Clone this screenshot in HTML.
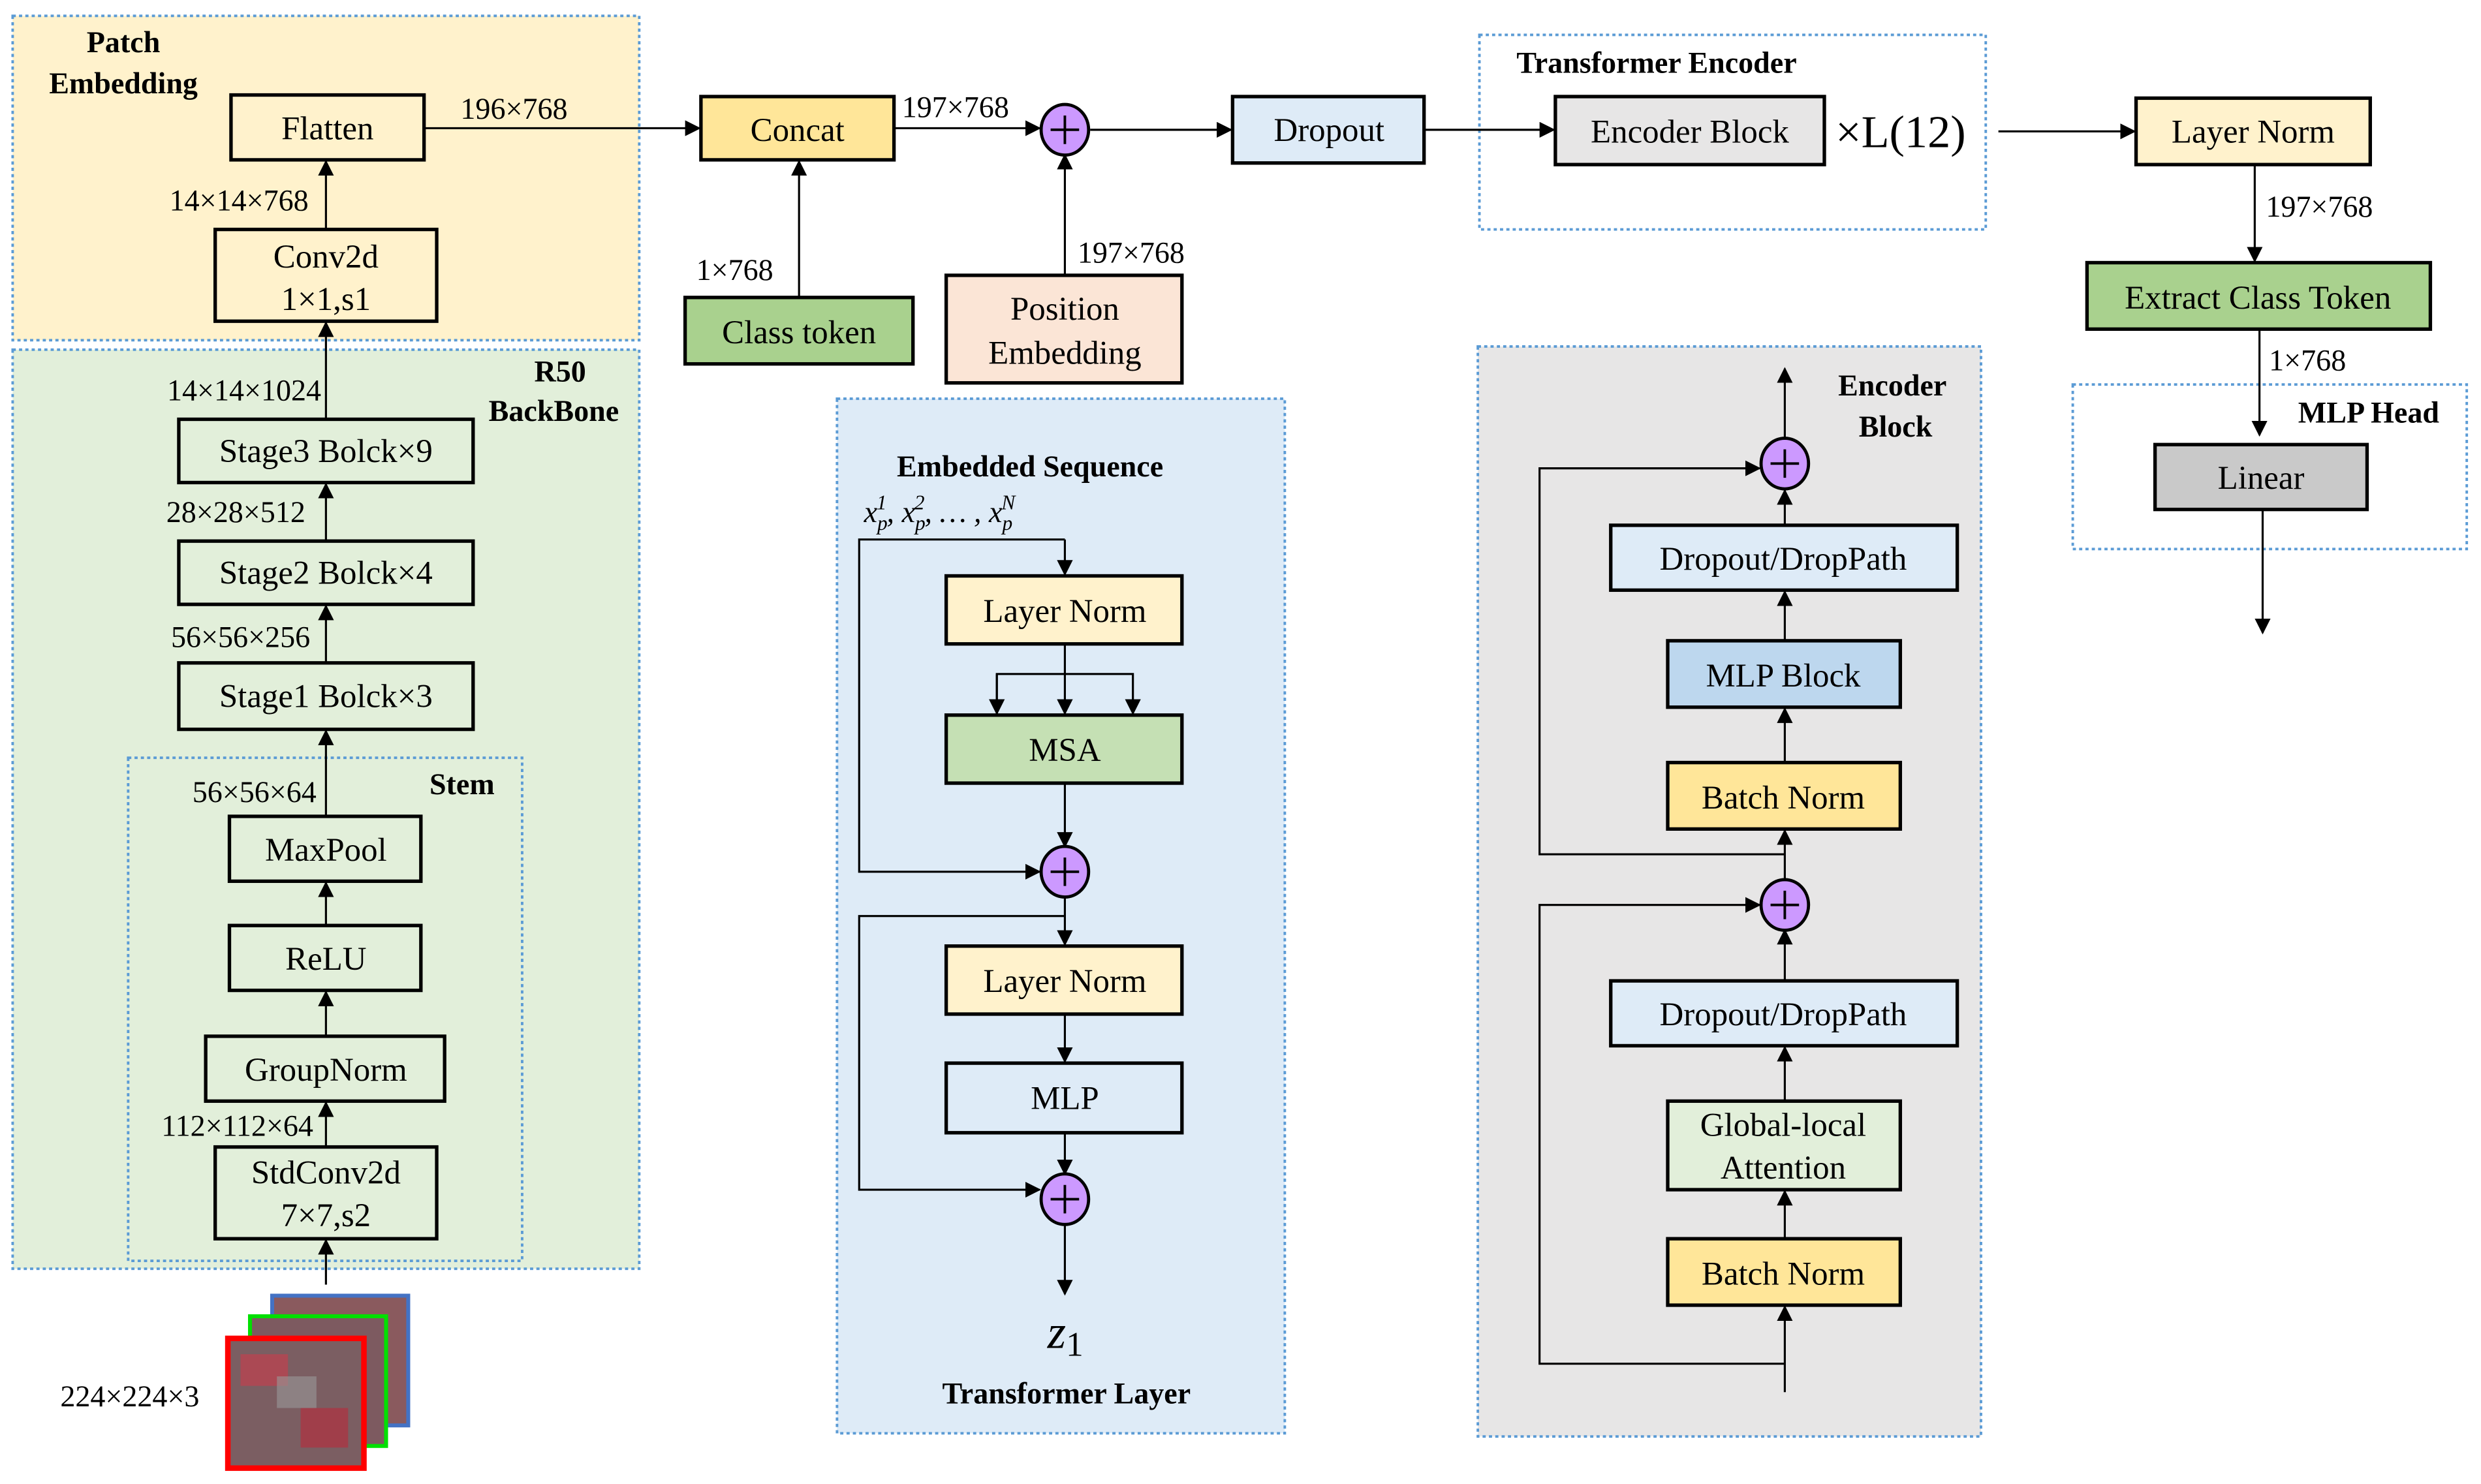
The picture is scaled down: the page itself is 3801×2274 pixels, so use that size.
<!DOCTYPE html>
<html><head><meta charset="utf-8"><style>
html,body{margin:0;padding:0;background:#fff}
svg{display:block}
text{font-family:"Liberation Serif",serif;fill:#000}
.t{font-size:21px;text-anchor:middle}
.l{font-size:19px}
.b{font-weight:bold;font-size:19px;text-anchor:middle}
.bx{stroke:#000;stroke-width:2.2}
.rg{stroke:#5b9bd5;stroke-width:1.6;stroke-dasharray:2 2}
.ln{stroke:#000;stroke-width:1.3;fill:none}
</style></head><body>
<svg width="3801" height="2274" viewBox="0 0 1568 938" xmlns="http://www.w3.org/2000/svg">
<defs><marker id="a" markerWidth="10" markerHeight="10" refX="9" refY="5" orient="auto" markerUnits="userSpaceOnUse"><path d="M0,0 L10,5 L0,10 z" fill="#000"/></marker></defs>
<!-- regions -->
<rect x="8" y="10" width="396" height="205" fill="#fff2cc" class="rg"/>
<rect x="8" y="221" width="396" height="581" fill="#e2efda" class="rg"/>
<rect x="81" y="479" width="249" height="318" fill="#e2efda" class="rg"/>
<rect x="529" y="252" width="283" height="654" fill="#deebf7" class="rg"/>
<rect x="934" y="219" width="318" height="689" fill="#e7e6e6" class="rg"/>
<rect x="935" y="22" width="320" height="123" fill="#fff" class="rg"/>
<rect x="1310" y="243" width="249" height="104" fill="#fff" class="rg"/>
<!-- region titles -->
<text class="b" x="78" y="33">Patch</text><text class="b" x="78" y="59">Embedding</text>
<text class="b" x="354" y="241">R50</text><text class="b" x="350" y="266">BackBone</text>
<text class="b" x="292" y="502">Stem</text>
<text class="b" x="651" y="301">Embedded Sequence</text>
<text class="b" x="674" y="887">Transformer Layer</text>
<text class="b" x="1047" y="46">Transformer Encoder</text>
<text class="b" x="1196" y="250">Encoder</text><text class="b" x="1198" y="276">Block</text>
<text class="b" x="1497" y="267">MLP Head</text>
<!-- left column boxes -->
<rect x="146" y="60" width="122" height="41" fill="none" class="bx"/><text class="t" x="207" y="88">Flatten</text>
<rect x="136" y="145" width="140" height="58" fill="none" class="bx"/><text class="t" x="206" y="169">Conv2d</text><text class="t" x="206" y="196">1×1,s1</text>
<rect x="113" y="265" width="186" height="40" fill="none" class="bx"/><text class="t" x="206" y="292">Stage3 Bolck×9</text>
<rect x="113" y="342" width="186" height="40" fill="none" class="bx"/><text class="t" x="206" y="369">Stage2 Bolck×4</text>
<rect x="113" y="419" width="186" height="42" fill="none" class="bx"/><text class="t" x="206" y="447">Stage1 Bolck×3</text>
<rect x="145" y="516" width="121" height="41" fill="none" class="bx"/><text class="t" x="206" y="544">MaxPool</text>
<rect x="145" y="585" width="121" height="41" fill="none" class="bx"/><text class="t" x="206" y="613">ReLU</text>
<rect x="130" y="655" width="151" height="41" fill="none" class="bx"/><text class="t" x="206" y="683">GroupNorm</text>
<rect x="136" y="725" width="140" height="58" fill="none" class="bx"/><text class="t" x="206" y="748">StdConv2d</text><text class="t" x="206" y="775">7×7,s2</text>
<g class="ln">
<line x1="206" y1="145" x2="206" y2="102" marker-end="url(#a)"/>
<line x1="206" y1="265" x2="206" y2="204" marker-end="url(#a)"/>
<line x1="206" y1="342" x2="206" y2="306" marker-end="url(#a)"/>
<line x1="206" y1="419" x2="206" y2="383" marker-end="url(#a)"/>
<line x1="206" y1="516" x2="206" y2="462" marker-end="url(#a)"/>
<line x1="206" y1="585" x2="206" y2="558" marker-end="url(#a)"/>
<line x1="206" y1="655" x2="206" y2="627" marker-end="url(#a)"/>
<line x1="206" y1="725" x2="206" y2="697" marker-end="url(#a)"/>
<line x1="206" y1="812" x2="206" y2="784" marker-end="url(#a)"/>
</g>
<g class="l" style="text-anchor:end">
<text x="195" y="133">14×14×768</text>
<text x="203" y="253">14×14×1024</text>
<text x="193" y="330">28×28×512</text>
<text x="196" y="409">56×56×256</text>
<text x="200" y="507">56×56×64</text>
<text x="198" y="718">112×112×64</text>
<text x="126" y="889">224×224×3</text>
</g>
<!-- images -->
<rect x="172" y="819" width="86" height="82" fill="#8a5a5e" stroke="#4472c4" stroke-width="2.5"/>
<rect x="158" y="832" width="86" height="82" fill="#7d5a60" stroke="#00e000" stroke-width="2.5"/>
<rect x="144" y="846" width="86" height="82" fill="#7b5e62" stroke="#ff0000" stroke-width="3.5"/>
<rect x="152" y="856" width="30" height="20" fill="#c0404e" opacity=".7"/><rect x="190" y="890" width="30" height="25" fill="#b03040" opacity=".7"/><rect x="175" y="870" width="25" height="20" fill="#9a9a9a" opacity=".6"/>
<!-- top row -->
<rect x="443" y="61" width="122" height="40" fill="#ffe699" class="bx"/><text class="t" x="504" y="89">Concat</text>
<rect x="433" y="188" width="144" height="42" fill="#a9d18e" class="bx"/><text class="t" x="505" y="217">Class token</text>
<rect x="598" y="174" width="149" height="68" fill="#fbe5d6" class="bx"/><text class="t" x="673" y="202">Position</text><text class="t" x="673" y="230">Embedding</text>
<rect x="779" y="61" width="121" height="42" fill="#deebf7" class="bx"/><text class="t" x="840" y="89">Dropout</text>
<rect x="983" y="61" width="170" height="43" fill="#e7e6e6" class="bx"/><text class="t" x="1068" y="90">Encoder Block</text>
<text x="1160" y="93" style="font-size:29px">×L(12)</text>
<rect x="1350" y="62" width="148" height="42" fill="#fff2cc" class="bx"/><text class="t" x="1424" y="90">Layer Norm</text>
<rect x="1319" y="166" width="217" height="42" fill="#a9d18e" class="bx"/><text class="t" x="1427" y="195">Extract Class Token</text>
<rect x="1362" y="281" width="134" height="41" fill="#c9c9c9" class="bx"/><text class="t" x="1429" y="309">Linear</text>
<g class="ln">
<line x1="268" y1="81" x2="442" y2="81" marker-end="url(#a)"/>
<line x1="505" y1="188" x2="505" y2="102" marker-end="url(#a)"/>
<line x1="565" y1="81" x2="657" y2="81" marker-end="url(#a)"/>
<line x1="673" y1="174" x2="673" y2="98" marker-end="url(#a)"/>
<line x1="689" y1="82" x2="778" y2="82" marker-end="url(#a)"/>
<line x1="900" y1="82" x2="982" y2="82" marker-end="url(#a)"/>
<line x1="1263" y1="83" x2="1349" y2="83" marker-end="url(#a)"/>
<line x1="1425" y1="104" x2="1425" y2="165" marker-end="url(#a)"/>
<line x1="1428" y1="208" x2="1428" y2="275" marker-end="url(#a)"/>
<line x1="1430" y1="322" x2="1430" y2="400" marker-end="url(#a)"/>
</g>
<g class="l">
<text x="291" y="75">196×768</text>
<text x="440" y="177">1×768</text>
<text x="570" y="74">197×768</text>
<text x="681" y="166">197×768</text>
<text x="1432" y="137">197×768</text>
<text x="1434" y="234">1×768</text>
</g>
<!-- transformer layer -->
<text x="546" y="330" style="font-size:19px;font-style:italic">x<tspan dy="5" font-size="13">p</tspan><tspan dy="-13" dx="-7" font-size="13">1</tspan><tspan dy="8">, x</tspan><tspan dy="5" font-size="13">p</tspan><tspan dy="-13" dx="-7" font-size="13">2</tspan><tspan dy="8">, … , x</tspan><tspan dy="5" font-size="13">p</tspan><tspan dy="-13" dx="-7" font-size="13">N</tspan></text>
<rect x="598" y="364" width="149" height="43" fill="#fff2cc" class="bx"/><text class="t" x="673" y="393">Layer Norm</text>
<rect x="598" y="452" width="149" height="43" fill="#c5e0b4" class="bx"/><text class="t" x="673" y="481">MSA</text>
<rect x="598" y="598" width="149" height="43" fill="#fff2cc" class="bx"/><text class="t" x="673" y="627">Layer Norm</text>
<rect x="598" y="672" width="149" height="44" fill="none" class="bx"/><text class="t" x="673" y="701">MLP</text>
<g class="ln">
<polyline points="673,341 673,363" marker-end="url(#a)"/>
<polyline points="673,341 543,341 543,551 657,551" marker-end="url(#a)"/>
<line x1="673" y1="407" x2="673" y2="451" marker-end="url(#a)"/>
<polyline points="630,451 630,426 716,426 716,451" marker-end="url(#a)"/>
<line x1="630" y1="426" x2="630" y2="451" marker-end="url(#a)"/>
<line x1="673" y1="495" x2="673" y2="535" marker-end="url(#a)"/>
<line x1="673" y1="567" x2="673" y2="597" marker-end="url(#a)"/>
<polyline points="673,579 543,579 543,752 657,752" marker-end="url(#a)"/>
<line x1="673" y1="641" x2="673" y2="671" marker-end="url(#a)"/>
<line x1="673" y1="716" x2="673" y2="742" marker-end="url(#a)"/>
<line x1="673" y1="774" x2="673" y2="818" marker-end="url(#a)"/>
</g>
<text x="662" y="852" style="font-size:30px;font-style:italic">z<tspan font-size="22" font-style="normal" dy="5">1</tspan></text>
<!-- encoder block -->
<rect x="1018" y="332" width="219" height="41" fill="#deebf7" class="bx"/><text class="t" x="1127" y="360">Dropout/DropPath</text>
<rect x="1054" y="405" width="147" height="42" fill="#bdd7ee" class="bx"/><text class="t" x="1127" y="434">MLP Block</text>
<rect x="1054" y="482" width="147" height="42" fill="#ffe699" class="bx"/><text class="t" x="1127" y="511">Batch Norm</text>
<rect x="1018" y="620" width="219" height="41" fill="#deebf7" class="bx"/><text class="t" x="1127" y="648">Dropout/DropPath</text>
<rect x="1054" y="696" width="147" height="56" fill="#e2efda" class="bx"/><text class="t" x="1127" y="718">Global-local</text><text class="t" x="1127" y="745">Attention</text>
<rect x="1054" y="783" width="147" height="42" fill="#ffe699" class="bx"/><text class="t" x="1127" y="812">Batch Norm</text>
<g class="ln">
<line x1="1128" y1="277" x2="1128" y2="233" marker-end="url(#a)"/>
<line x1="1128" y1="332" x2="1128" y2="310" marker-end="url(#a)"/>
<line x1="1128" y1="405" x2="1128" y2="374" marker-end="url(#a)"/>
<line x1="1128" y1="482" x2="1128" y2="448" marker-end="url(#a)"/>
<line x1="1128" y1="556" x2="1128" y2="525" marker-end="url(#a)"/>
<polyline points="1128,540 973,540 973,296 1112,296" marker-end="url(#a)"/>
<line x1="1128" y1="620" x2="1128" y2="588" marker-end="url(#a)"/>
<line x1="1128" y1="696" x2="1128" y2="662" marker-end="url(#a)"/>
<line x1="1128" y1="783" x2="1128" y2="753" marker-end="url(#a)"/>
<line x1="1128" y1="880" x2="1128" y2="826" marker-end="url(#a)"/>
<polyline points="1128,862 973,862 973,572 1112,572" marker-end="url(#a)"/>
</g>
<!-- plus circles -->
<g stroke="#000" stroke-width="2" fill="#cc99ff">
<ellipse cx="673" cy="82" rx="15" ry="16"/><ellipse cx="673" cy="551" rx="15" ry="16"/><ellipse cx="673" cy="758" rx="15" ry="16"/>
<ellipse cx="1128" cy="293" rx="15" ry="16"/><ellipse cx="1128" cy="572" rx="15" ry="16"/>
</g>
<g stroke="#000" stroke-width="1.6">
<path d="M664,82h18M673,73v18"/><path d="M664,551h18M673,542v18"/><path d="M664,758h18M673,749v18"/>
<path d="M1119,293h18M1128,284v18"/><path d="M1119,572h18M1128,563v18"/>
</g>
</svg>
</body></html>
